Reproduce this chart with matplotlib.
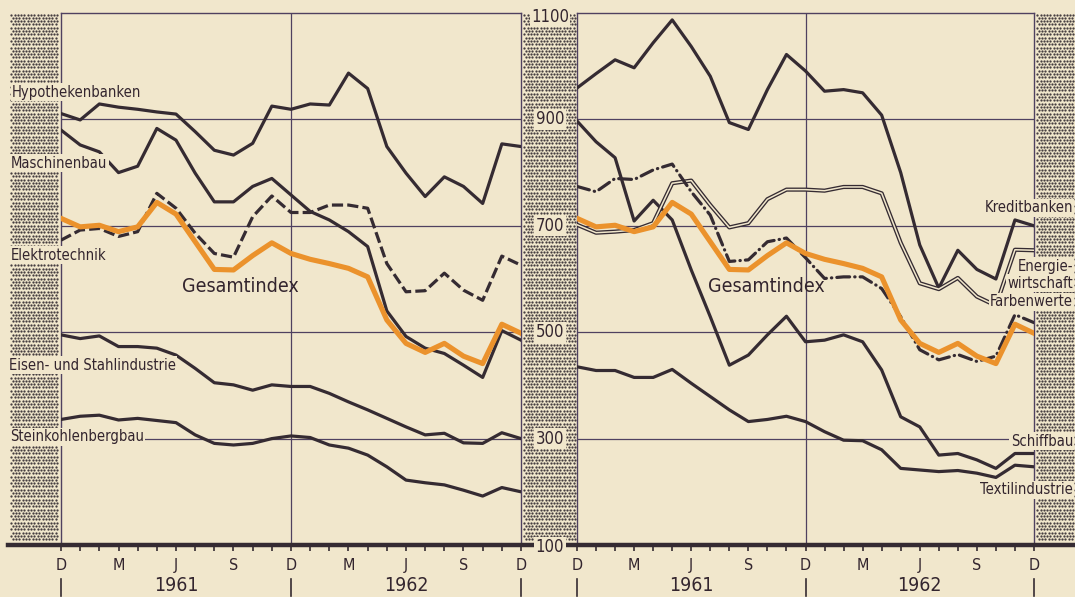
import numpy as np
import matplotlib
matplotlib.use('Agg')
import matplotlib.pyplot as plt
from matplotlib.lines import Line2D
from matplotlib import font_manager

# Monatswerte Dez 1960 .. Dez 1962
monate = np.arange(25)
monat_ticks = [0, 3, 6, 9, 12, 15, 18, 21, 24]
monat_labels = ['D', 'M', 'J', 'S', 'D', 'M', 'J', 'S', 'D']
jahre = ['1961', '1962']
jahr_pos = [6, 18]
y_werte = [1100, 900, 700, 500, 300, 100]
gitter = [300, 500, 700, 900]

gesamtindex = [714, 698, 701, 689, 698, 744, 722, 670, 618, 617, 644, 668, 648,
               637, 629, 620, 604, 523, 479, 462, 479, 455, 441, 515, 498]

# linke Tafel
hypothekenbanken = [911, 899, 929, 923, 919, 914, 910, 877, 842, 833, 855, 925, 919,
                    929, 927, 987, 958, 849, 799, 755, 792, 774, 742, 854, 849]
maschinenbau = [880, 852, 839, 800, 812, 883, 861, 799, 745, 745, 774, 789, 758,
                727, 711, 689, 661, 540, 492, 470, 460, 438, 415, 503, 485]
elektrotechnik = [673, 692, 695, 680, 689, 761, 733, 686, 648, 641, 717, 756, 725,
                  725, 739, 739, 733, 629, 576, 578, 611, 579, 560, 643, 626]
eisen_stahl = [495, 488, 493, 473, 473, 470, 457, 432, 405, 401, 391, 401, 398,
               398, 385, 369, 354, 338, 322, 307, 310, 292, 291, 311, 300]
steinkohle = [336, 342, 344, 335, 338, 334, 330, 307, 291, 288, 291, 300, 305,
              302, 288, 282, 269, 247, 222, 217, 213, 203, 192, 208, 200]

# rechte Tafel
kreditbanken = [959, 986, 1012, 997, 1044, 1087, 1037, 981, 894, 881, 956, 1022, 991,
                953, 956, 950, 908, 800, 664, 583, 654, 618, 600, 711, 700]
schiffbau = [897, 858, 828, 709, 748, 711, 617, 529, 438, 457, 495, 530, 482,
             485, 495, 482, 429, 341, 322, 269, 272, 260, 244, 272, 272]
textil = [435, 428, 428, 415, 415, 430, 404, 379, 354, 332, 336, 342, 332,
          313, 297, 296, 279, 244, 241, 238, 240, 235, 227, 250, 247]
energie = [702, 687, 689, 692, 705, 780, 785, 739, 697, 705, 750, 768, 768,
           766, 773, 773, 761, 668, 592, 581, 602, 567, 550, 655, 654]
farben = [774, 764, 789, 787, 805, 816, 764, 720, 633, 636, 670, 677, 640,
          601, 604, 604, 582, 529, 467, 448, 458, 445, 455, 533, 518]

creme = '#f1e7cc'
dunkel = '#352b32'
schrift_farbe = '#33252e'
gitter_farbe = '#4f4160'
orange = '#eb922c'
punkt_farbe = '#463e40'

vorhanden = {f.name for f in font_manager.fontManager.ttflist}
if 'Liberation Sans Narrow' in vorhanden:
    plt.rcParams['font.family'] = 'Liberation Sans Narrow'
    gross = 1.15
else:
    plt.rcParams['font.family'] = 'DejaVu Sans'
    plt.rcParams['font.stretch'] = 'condensed'
    gross = 1.0

W, H = 1075, 597
def fx(x):
    return x / W
def fy(y):
    return 1 - y / H

fig = plt.figure(figsize=(W / 100, H / 100), dpi=100, facecolor=creme)

# Hintergrund in Pixelkoordinaten fuer das Punktraster
bg = fig.add_axes([0, 0, 1, 1], zorder=-1)
bg.set_xlim(0, W)
bg.set_ylim(H, 0)
bg.axis('off')
abst = 3.3
for x0, x1 in [(10, 58), (523, 576), (1036, 1075)]:
    px, py = [], []
    for k, yy in enumerate(np.arange(14.5, 542, abst)):
        versatz = (abst / 2) * (k % 2)
        xs = np.arange(x0 + 1.2 + versatz, x1, abst)
        px.extend(xs)
        py.extend([yy] * len(xs))
    bg.scatter(px, py, s=2.7, c=punkt_farbe, marker='o', linewidths=0)

ax1 = fig.add_axes([fx(61), fy(545), (521 - 61) / W, (545 - 13) / H])
ax2 = fig.add_axes([fx(577), fy(545), (1034 - 577) / W, (545 - 13) / H])

for ax in (ax1, ax2):
    ax.set_facecolor('none')
    ax.set_xlim(0, 24)
    ax.set_ylim(100, 1100)
    for s in ('left', 'top', 'right'):
        ax.spines[s].set_color(gitter_farbe)
        ax.spines[s].set_linewidth(1.0)
    ax.spines['bottom'].set_visible(False)
    for g in gitter:
        ax.axhline(g, color=gitter_farbe, lw=0.9, zorder=1)
    ax.axvline(12, color=gitter_farbe, lw=0.9, zorder=1)
    ax.set_yticks([])
    ax.set_xticks(monat_ticks)
    ax.set_xticklabels(monat_labels, fontsize=11.5 * gross, color=schrift_farbe)
    ax.set_xticks(monate, minor=True)
    ax.tick_params(axis='x', which='both', direction='out', length=4.5, width=1.2,
                   color=dunkel, pad=5)
    tr = ax.get_xaxis_transform()
    for m in (0, 12, 24):
        ax.plot([m, m], [-0.063, -0.095], transform=tr, clip_on=False,
                color=dunkel, lw=1.2)
    for j, p in zip(jahre, jahr_pos):
        ax.text(p, -0.077, j, transform=tr, ha='center', va='center',
                fontsize=14 * gross, color=schrift_farbe)

lw = 2.3
ax1.plot(monate, hypothekenbanken, color=dunkel, lw=lw, zorder=3)
ax1.plot(monate, maschinenbau, color=dunkel, lw=lw, zorder=3)
ax1.plot(monate, elektrotechnik, color=dunkel, lw=lw, dashes=(3.5, 1.3), zorder=3)
ax1.plot(monate, eisen_stahl, color=dunkel, lw=lw, zorder=3)
ax1.plot(monate, steinkohle, color=dunkel, lw=lw, zorder=3)
ax1.plot(monate, gesamtindex, color=orange, lw=3.7, zorder=4)

ax2.plot(monate, kreditbanken, color=dunkel, lw=lw, zorder=3)
ax2.plot(monate, schiffbau, color=dunkel, lw=lw, zorder=3)
ax2.plot(monate, textil, color=dunkel, lw=lw, zorder=3)
ax2.plot(monate, energie, color=dunkel, lw=3.0, zorder=3)
ax2.plot(monate, energie, color=creme, lw=1.1, zorder=3)
ax2.plot(monate, farben, color=dunkel, lw=lw, dashes=(4, 1.6, 0.1, 1.6),
         dash_capstyle='round', zorder=3)
ax2.plot(monate, gesamtindex, color=orange, lw=3.7, zorder=4)

# Grundlinie
fig.add_artist(Line2D([fx(8), 1.0], [fy(545), fy(545)], color=dunkel, lw=3.2, zorder=5))

box = dict(facecolor=creme, edgecolor='none', pad=1.0)
def beschrift(x, y, s, ha='left', size=10.6):
    fig.text(fx(x), fy(y), s, ha=ha, va='center', fontsize=size * gross,
             color=schrift_farbe, bbox=box, zorder=6)

beschrift(12, 92, 'Hypothekenbanken')
beschrift(11, 163, 'Maschinenbau')
beschrift(11, 255, 'Elektrotechnik')
beschrift(9, 365, 'Eisen- und Stahlindustrie')
beschrift(10, 437, 'Steinkohlenbergbau')
fig.text(fx(182), fy(286), 'Gesamtindex', ha='left', va='center', fontsize=14 * gross,
         color=schrift_farbe, zorder=6)
fig.text(fx(708), fy(286), 'Gesamtindex', ha='left', va='center', fontsize=14 * gross,
         color=schrift_farbe, zorder=6)

beschrift(1073, 208, 'Kreditbanken', ha='right')
beschrift(1073, 266, 'Energie-', ha='right')
beschrift(1073, 283, 'wirtschaft', ha='right')
beschrift(1073, 302, 'Farbenwerte', ha='right')
beschrift(1073, 441, 'Schiffbau', ha='right')
beschrift(1073, 490, 'Textilindustrie', ha='right')

y_pix = {1100: 17, 100: 547}
for v in y_werte:
    y = y_pix.get(v, 545 - (v - 100) * 0.532)
    beschrift(550, y, str(v), ha='center', size=12)

fig.savefig('out.png', dpi=100, facecolor=creme)
